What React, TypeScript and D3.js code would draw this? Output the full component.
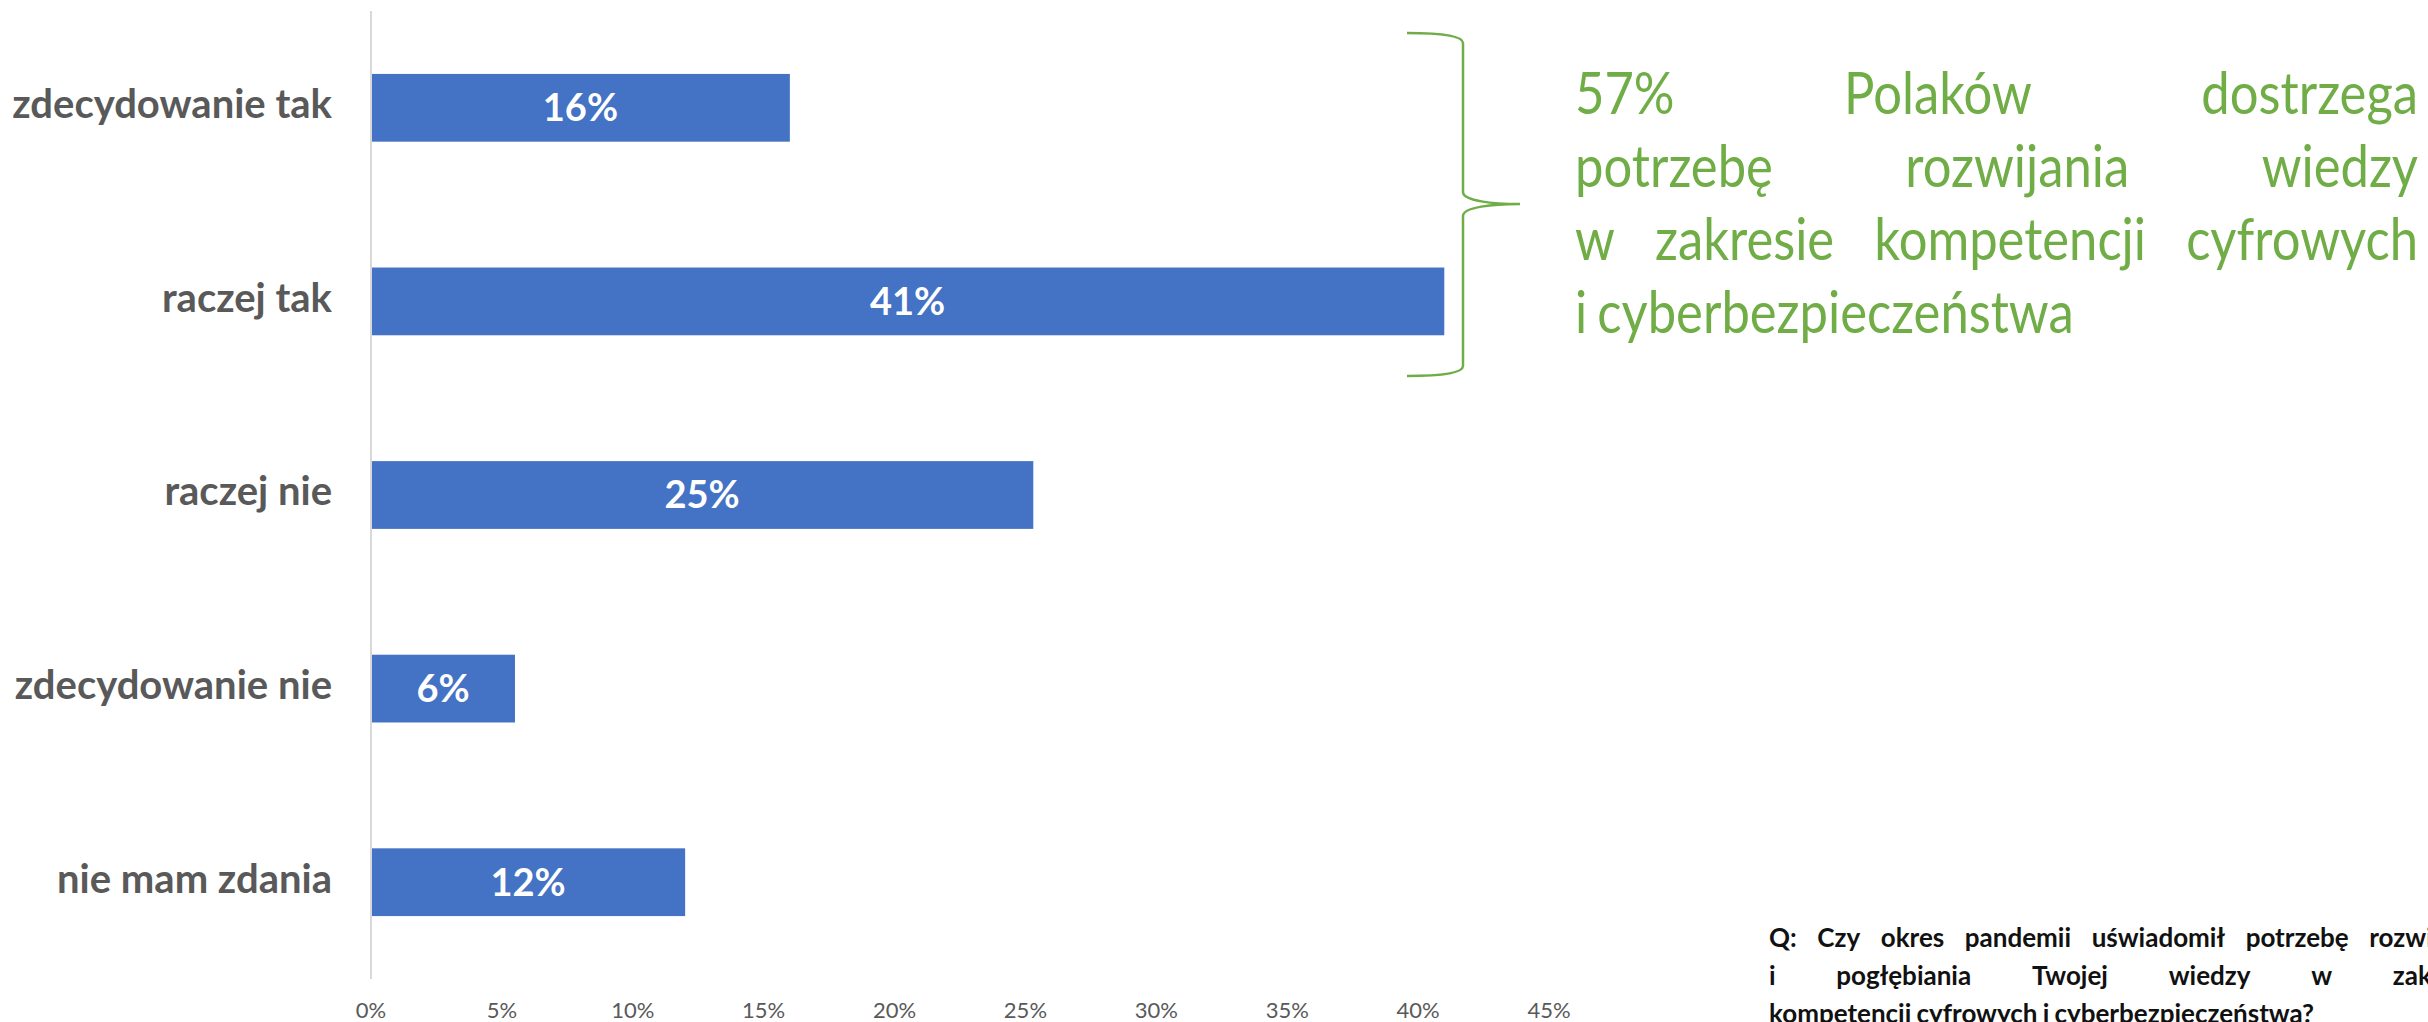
import React, { useLayoutEffect, useRef, useState } from "react";
import * as d3 from "d3";

const categories = ["zdecydowanie tak", "raczej tak", "raczej nie", "zdecydowanie nie", "nie mam zdania"];
const values = [16.0, 41.0, 25.3, 5.5, 12.0];
const valueLabels = ["16%", "41%", "25%", "6%", "12%"];
const xTicks = [0, 5, 10, 15, 20, 25, 30, 35, 40, 45];
const calloutLines = [
  ["57%", "Polaków", "dostrzega"],
  ["potrzebę", "rozwijania", "wiedzy"],
  ["w", "zakresie", "kompetencji", "cyfrowych"],
  ["i", "cyberbezpieczeństwa"],
];
const calloutJustify = [true, true, true, false];
const questionLines = [
  ["Q:", "Czy", "okres", "pandemii", "uświadomił", "potrzebę", "rozwijania"],
  ["i", "pogłębiania", "Twojej", "wiedzy", "w", "zakresie"],
  ["kompetencji", "cyfrowych", "i", "cyberbezpieczeństwa?"],
];
const questionJustify = [true, true, false];

const W = 2428;
const H = 1022;
const FONT = "Lato, 'Open Sans', sans-serif";

type JProps = {
  lines: string[][];
  justify: boolean[];
  x: number;
  width: number;
  y0: number;
  lineHeight: number;
  fontSize: number;
  fontWeight: number;
  fill: string;
  sx: number;
};

function JustifiedText({ lines, justify, x, width, y0, lineHeight, fontSize, fontWeight, fill, sx }: JProps) {
  const refs = useRef<(SVGTextElement | null)[][]>(lines.map((l) => l.map(() => null)));
  const [widths, setWidths] = useState<number[][] | null>(null);
  const spaceW = fontSize * 0.2;
  const innerW = width / sx;

  useLayoutEffect(() => {
    const w = lines.map((l, i) => l.map((_, j) => refs.current[i][j]?.getComputedTextLength() ?? 0));
    setWidths(w);
  }, []);

  return (
    <g
      transform={`translate(${x},0) scale(${sx},1) translate(${-x},0)`}
      fontFamily={FONT}
      fontSize={fontSize}
      fontWeight={fontWeight}
      fill={fill}
    >
      {lines.map((words, i) => {
        const positions: number[] = [];
        if (widths) {
          const ws = widths[i];
          const total = ws.reduce((a, b) => a + b, 0);
          let gap = spaceW;
          if (justify[i] && words.length > 1) {
            gap = Math.max(spaceW, (innerW - total) / (words.length - 1));
          }
          let cx = x;
          ws.forEach((w) => {
            positions.push(cx);
            cx += w + gap;
          });
        } else {
          let cx = x;
          words.forEach((wd) => {
            positions.push(cx);
            cx += wd.length * fontSize * 0.5 + spaceW;
          });
        }
        return words.map((wd, j) => (
          <text
            key={`${i}-${j}`}
            ref={(el) => {
              refs.current[i][j] = el;
            }}
            x={positions[j]}
            y={y0 + i * lineHeight}
          >
            {wd}
          </text>
        ));
      })}
    </g>
  );
}

export default function App() {
  const x = d3.scaleLinear().domain([0, 45]).range([371, 1549]);
  const y = d3.scaleBand<string>().domain(categories).range([11, 979]).paddingInner(0.65).paddingOuter(0.325);

  // brace geometry (annotation)
  const bx0 = 1407;
  const bx1 = 1463;
  const bx2 = 1520;
  const byTop = 33;
  const byMid = 204;
  const byBot = 376;
  const bracePath = [
    `M${bx0},${byTop}`,
    `C${bx0 + 35},${byTop} ${bx1},${byTop + 3} ${bx1},${byTop + 10}`,
    `L${bx1},${byMid - 12}`,
    `C${bx1},${byMid - 3} ${bx1 + 30},${byMid} ${bx2},${byMid}`,
    `C${bx1 + 30},${byMid} ${bx1},${byMid + 3} ${bx1},${byMid + 12}`,
    `L${bx1},${byBot - 10}`,
    `C${bx1},${byBot - 3} ${bx0 + 35},${byBot} ${bx0},${byBot}`,
  ].join(" ");

  return (
    <svg
      width={W}
      height={H}
      viewBox={`0 0 ${W} ${H}`}
      style={{ position: "absolute", left: 0, top: 0, display: "block", background: "#fff" }}
    >
      <rect x={0} y={0} width={W} height={H} fill="#fff" />
      {/* bars */}
      {categories.map((c, i) => (
        <rect key={c} x={x(0)} y={y(c)!} width={x(values[i]) - x(0)} height={y.bandwidth()} fill="#4472C4" />
      ))}
      {/* axis line */}
      <line x1={x(0)} x2={x(0)} y1={11} y2={979} stroke="#d9d9d9" strokeWidth={2} />
      {/* category labels */}
      {categories.map((c) => (
        <text
          key={c}
          x={332}
          y={y(c)! + y.bandwidth() / 2}
          dy="0.26em"
          textAnchor="end"
          fontFamily={FONT}
          fontWeight={700}
          fontSize={40}
          fill="#595959"
        >
          {c}
        </text>
      ))}
      {/* value labels */}
      {categories.map((c, i) => (
        <text
          key={c}
          x={(x(0) + x(values[i])) / 2}
          y={y(c)! + y.bandwidth() / 2}
          dy="0.35em"
          textAnchor="middle"
          fontFamily={FONT}
          fontWeight={700}
          fontSize={38}
          fill="#fff"
        >
          {valueLabels[i]}
        </text>
      ))}
      {/* x tick labels */}
      {xTicks.map((t) => (
        <text key={t} x={x(t)} y={1018} textAnchor="middle" fontFamily={FONT} fontSize={22} fill="#595959">
          {`${t}%`}
        </text>
      ))}
      {/* brace */}
      <path d={bracePath} fill="none" stroke="#70AD47" strokeWidth={2.5} />
      {/* callout */}
      <JustifiedText
        lines={calloutLines}
        justify={calloutJustify}
        x={1575}
        width={843}
        y0={114}
        lineHeight={73}
        fontSize={58}
        fontWeight={400}
        fill="#70AD47"
        sx={0.875}
      />
      {/* question */}
      <JustifiedText
        lines={questionLines}
        justify={questionJustify}
        x={1769}
        width={718}
        y0={947}
        lineHeight={38}
        fontSize={26}
        fontWeight={700}
        fill="#111"
        sx={1}
      />
    </svg>
  );
}
